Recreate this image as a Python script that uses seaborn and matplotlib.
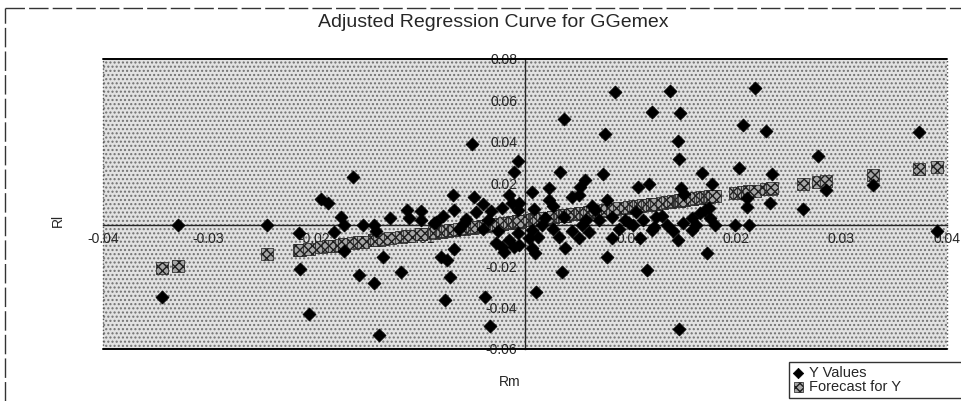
import numpy as np
import pandas as pd
import seaborn as sns
import matplotlib.pyplot as plt
from matplotlib.patches import Rectangle
from matplotlib.lines import Line2D
from matplotlib.ticker import FixedLocator, FuncFormatter

# Rm (market return) and RI (stock return), sorted by Rm
rm = [-0.0344, -0.0329, -0.0244, -0.0214, -0.0213, -0.0205, -0.0193, -0.0187, -0.0181, -0.0174,
      -0.0171, -0.0171, -0.0163, -0.0157, -0.0153, -0.0143, -0.0143, -0.0141, -0.0138, -0.0134,
      -0.0128, -0.0117, -0.0112, -0.0110, -0.0098, -0.0098, -0.0086, -0.0084, -0.0079, -0.0078,
      -0.0076, -0.0074, -0.0071, -0.0068, -0.0067, -0.0067, -0.0062, -0.0058, -0.0056, -0.0050,
      -0.0048, -0.0046, -0.0040, -0.0040, -0.0038, -0.0035, -0.0033, -0.0032, -0.0027, -0.0025,
      -0.0022, -0.0022, -0.0020, -0.0015, -0.0015, -0.0012, -0.0010, -0.0010, -0.0006, -0.0006,
      -0.0006, -0.0005, -0.0005, 0.0004, 0.0007, 0.0007, 0.0007, 0.0009, 0.0010, 0.0011,
      0.0013, 0.0016, 0.0019, 0.0023, 0.0023, 0.0027, 0.0027, 0.0032, 0.0033, 0.0035,
      0.0037, 0.0037, 0.0038, 0.0045, 0.0045, 0.0051, 0.0051, 0.0052, 0.0054, 0.0057,
      0.0058, 0.0061, 0.0064, 0.0067, 0.0070, 0.0074, 0.0076, 0.0078, 0.0078, 0.0083,
      0.0083, 0.0086, 0.0089, 0.0095, 0.0099, 0.0103, 0.0105, 0.0107, 0.0109, 0.0112,
      0.0116, 0.0118, 0.0121, 0.0121, 0.0123, 0.0124, 0.0130, 0.0135, 0.0138, 0.0141,
      0.0145, 0.0145, 0.0146, 0.0146, 0.0147, 0.0148, 0.0150, 0.0151, 0.0159, 0.0159,
      0.0162, 0.0166, 0.0168, 0.0171, 0.0173, 0.0175, 0.0176, 0.0178, 0.0180, 0.0199,
      0.0203, 0.0207, 0.0211, 0.0211, 0.0213, 0.0218, 0.0229, 0.0233, 0.0234, 0.0264,
      0.0278, 0.0286, 0.0330, 0.0374, 0.0391]

y_values = [-0.0350, 0.0000, 0.0000, -0.0040, -0.0215, -0.0430, 0.0123, 0.0104, -0.0036, 0.0036,
            -0.0125, 0.0000, 0.0230, -0.0245, 0.0000, -0.0280, 0.0000, -0.0030, -0.0535, -0.0157,
            0.0030, -0.0230, 0.0070, 0.0030, 0.0065, 0.0020, 0.0010, 0.0015, -0.0157, 0.0040,
            -0.0366, -0.0172, -0.0254, 0.0143, 0.0072, -0.0118, -0.0020, 0.0010, 0.0025, 0.0390,
            0.0133, 0.0063, 0.0100, -0.0020, -0.0350, 0.0020, -0.0490, 0.0065, -0.0090, -0.0030,
            0.0080, -0.0109, -0.0133, 0.0143, -0.0075, 0.0104, 0.0254, -0.0109, 0.0305, 0.0070,
            -0.0040, 0.0104, -0.0100, -0.0065, 0.0157, -0.0027, -0.0114, 0.0075, -0.0138, -0.0327,
            -0.0060, 0.0000, 0.0030, 0.0177, 0.0119, -0.0020, 0.0090, -0.0062, 0.0254, -0.0230,
            0.0510, 0.0036, -0.0114, 0.0133, -0.0030, 0.0143, -0.0065, 0.0180, 0.0000, 0.0215,
            0.0020, -0.0036, 0.0090, 0.0070, 0.0020, 0.0244, 0.0438, 0.0119, -0.0157, 0.0036,
            -0.0065, 0.0640, -0.0020, 0.0020, 0.0010, 0.0000, 0.0060, 0.0180, -0.0065, 0.0020,
            -0.0220, 0.0196, 0.0545, -0.0027, -0.0010, 0.0036, 0.0040, 0.0000, 0.0646, -0.0030,
            0.0405, -0.0075, 0.0315, -0.0505, 0.0540, 0.0177, 0.0007, 0.0150, 0.0030, -0.0027,
            0.0000, 0.0056, 0.0249, 0.0070, -0.0138, 0.0080, 0.0030, 0.0196, 0.0000, 0.0000,
            0.0273, 0.0480, 0.0085, 0.0128, 0.0000, 0.0660, 0.0450, 0.0104, 0.0244, 0.0075,
            0.0330, 0.0167, 0.0190, 0.0448, -0.0030]

forecast = [-0.0210, -0.0200, -0.0143, -0.0123, -0.0123, -0.0117, -0.0109, -0.0105, -0.0101, -0.0097,
            -0.0095, -0.0095, -0.0089, -0.0085, -0.0083, -0.0076, -0.0076, -0.0075, -0.0073, -0.0070,
            -0.0066, -0.0059, -0.0055, -0.0054, -0.0046, -0.0046, -0.0038, -0.0037, -0.0034, -0.0033,
            -0.0032, -0.0030, -0.0028, -0.0026, -0.0026, -0.0026, -0.0022, -0.0020, -0.0018, -0.0014,
            -0.0013, -0.0012, -0.0008, -0.0008, -0.0006, -0.0004, -0.0003, -0.0002, 0.0001, 0.0002,
            0.0004, 0.0004, 0.0006, 0.0009, 0.0009, 0.0011, 0.0012, 0.0012, 0.0015, 0.0015,
            0.0015, 0.0016, 0.0016, 0.0022, 0.0024, 0.0024, 0.0024, 0.0025, 0.0026, 0.0026,
            0.0028, 0.0030, 0.0032, 0.0034, 0.0034, 0.0037, 0.0037, 0.0040, 0.0041, 0.0042,
            0.0044, 0.0044, 0.0044, 0.0049, 0.0049, 0.0053, 0.0053, 0.0054, 0.0055, 0.0057,
            0.0058, 0.0060, 0.0062, 0.0064, 0.0066, 0.0068, 0.0070, 0.0071, 0.0071, 0.0074,
            0.0074, 0.0076, 0.0078, 0.0082, 0.0085, 0.0087, 0.0089, 0.0090, 0.0091, 0.0093,
            0.0096, 0.0097, 0.0099, 0.0099, 0.0101, 0.0101, 0.0105, 0.0109, 0.0111, 0.0113,
            0.0115, 0.0115, 0.0116, 0.0116, 0.0117, 0.0117, 0.0119, 0.0119, 0.0125, 0.0125,
            0.0127, 0.0129, 0.0131, 0.0133, 0.0134, 0.0135, 0.0136, 0.0137, 0.0139, 0.0151,
            0.0154, 0.0157, 0.0159, 0.0159, 0.0161, 0.0164, 0.0171, 0.0174, 0.0175, 0.0195,
            0.0204, 0.0209, 0.0238, 0.0268, 0.0279]

x_ticks = [-0.04, -0.03, -0.02, -0.01, 0.01, 0.02, 0.03, 0.04]
y_ticks = [-0.06, -0.04, -0.02, 0.02, 0.04, 0.06, 0.08]

df = pd.DataFrame({"Rm": rm, "RI": y_values, "Forecast": forecast})

sns.set_style("white")
plt.rcParams["font.family"] = ["Liberation Sans", "DejaVu Sans"]
plt.rcParams["hatch.linewidth"] = 1.0

fig = plt.figure(figsize=(9.62, 4.01), dpi=100)
ax = fig.add_axes([0.107, 0.130, 0.877, 0.723])

# stippled plot area
ax.patch.set_facecolor("white")
ax.add_patch(Rectangle((0, 0), 1, 1, transform=ax.transAxes, facecolor="#e2e2e2",
                       edgecolor="#707070", hatch="....", lw=0, zorder=0))

sns.scatterplot(data=df, x="Rm", y="Forecast", marker="s", s=75, facecolor="#a6a6a6",
                edgecolor="#1e1e1e", hatch="xxxx", linewidth=0.5, label="Forecast for Y",
                ax=ax, zorder=4)
sns.scatterplot(data=df, x="Rm", y="RI", marker="D", s=44, color="black",
                edgecolor="black", linewidth=0.5, label="Y Values", ax=ax, zorder=5)

ax.set_xlim(-0.04, 0.04)
ax.set_ylim(-0.06, 0.08)

# axes cross at zero, Excel style
ax.spines["left"].set_position("zero")
ax.spines["bottom"].set_position("zero")
ax.spines["left"].set_linewidth(1.0)
ax.spines["bottom"].set_linewidth(1.0)
ax.spines["top"].set_visible(False)
ax.spines["right"].set_visible(False)
ax.xaxis.set_major_locator(FixedLocator(x_ticks))
ax.yaxis.set_major_locator(FixedLocator(y_ticks))
fmt = FuncFormatter(lambda v, p: "%g" % round(v, 2))
ax.xaxis.set_major_formatter(fmt)
ax.yaxis.set_major_formatter(fmt)
ax.tick_params(axis="both", direction="inout", length=7, width=1, color="black",
               labelsize=10, pad=2)
ax.set_xlabel("")
ax.set_ylabel("")

# frame: solid top/bottom, dotted sides
ax.plot([0, 1], [1, 1], transform=ax.transAxes, color="black", lw=1.4, clip_on=False, zorder=6)
ax.plot([0, 1], [0, 0], transform=ax.transAxes, color="black", lw=1.4, clip_on=False, zorder=6)
ax.plot([0, 0], [0, 1], transform=ax.transAxes, color="#555555", lw=1, ls=":", clip_on=False)
ax.plot([1, 1], [0, 1], transform=ax.transAxes, color="#555555", lw=1, ls=":", clip_on=False)

handles, labels = ax.get_legend_handles_labels()
ax.get_legend().remove()
fig.text(0.513, 0.945, "Adjusted Regression Curve for GGemex", ha="center", va="center",
         fontsize=14)
fig.text(0.060, 0.45, "Rl", rotation=90, ha="center", va="center", fontsize=10)
fig.text(0.530, 0.047, "Rm", ha="center", va="center", fontsize=10)

# legend box runs off the right edge, as in the source
leg = fig.legend(handles[::-1], labels[::-1], loc="upper left",
                 bbox_to_anchor=(0.820, -0.1, 0.2, 0.198), mode="expand",
                 frameon=True, fancybox=False, fontsize=10.5,
                 handlelength=0.7, handletextpad=0.4, borderpad=0.3, labelspacing=0.0,
                 borderaxespad=0, markerscale=0.8)
leg.get_frame().set_edgecolor("black")
leg.get_frame().set_linewidth(1)

# dashed outer border of the sheet
fig.add_artist(Line2D([0.005, 1], [0.98, 0.98], color="#333333", lw=1, ls=(0, (14, 3))))
fig.add_artist(Line2D([0.005, 0.005], [0, 0.98], color="#333333", lw=1, ls=(0, (14, 3))))

fig.savefig("out.png", dpi=100)
